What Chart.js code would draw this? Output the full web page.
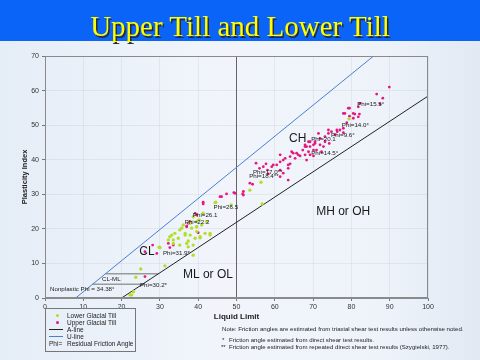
<!DOCTYPE html>
<html>
<head>
<meta charset="utf-8">
<script src="https://cdn.jsdelivr.net/npm/chart.js@4.4.1/dist/chart.umd.min.js"></script>
<style>
  html, body { margin: 0; padding: 0; }
  body {
    width: 480px; height: 360px; position: relative; overflow: hidden;
    background: linear-gradient(90deg, #e5edf7 0%, #f1f5fb 45%, #eef3fa 80%, #e2e9f3 100%);
    font-family: 'Liberation Sans', Arial, sans-serif; color: #222;
  }
  #bar { position: absolute; left: 0; top: 0; width: 480px; height: 41px; background: #0a64f8; }
  #title {
    position: absolute; left: 0; top: 9px; width: 480px; text-align: center;
    font-family: 'Liberation Serif', 'Times New Roman', serif; font-size: 29px; line-height: 34px;
    color: #ffff00; text-shadow: 1.5px 1.5px 0 #2a2a2a;
  }
  #wrap { position: absolute; left: 0; top: 0; width: 480px; height: 360px; }
  #legend {
    position: absolute; left: 45px; top: 308px; width: 89px; height: 42px;
    border: 1px solid #777; font-size: 6.5px; line-height: 7px;
  }
  #legend .row { position: absolute; left: 0; width: 89px; height: 7px; white-space: nowrap; }
  #legend .txt { position: absolute; left: 21px; top: 0; }
  #legend .dot { position: absolute; left: 10px; top: 2px; width: 3px; height: 3px; border-radius: 50%; }
  #legend .ln { position: absolute; left: 3px; top: 3px; width: 14px; height: 1px; }
  .note { position: absolute; font-size: 6.1px; line-height: 7px; white-space: nowrap; color: #222; }
</style>
</head>
<body>
<div id="wrap"><canvas id="plasticity"></canvas></div>
<div id="bar"></div>
<div id="title">Upper Till and Lower Till</div>

<div id="legend">
  <div class="row" style="top:3px"><span class="dot" style="background:#b0dc28"></span><span class="txt">Lower Glacial Till</span></div>
  <div class="row" style="top:10px"><span class="dot" style="background:#e6177f"></span><span class="txt">Upper Glacial Till</span></div>
  <div class="row" style="top:17px"><span class="ln" style="background:#222"></span><span class="txt">A-line</span></div>
  <div class="row" style="top:24px"><span class="ln" style="background:#4a7fd0"></span><span class="txt">U-line</span></div>
  <div class="row" style="top:31px"><span style="position:absolute;left:3px">Phi=</span><span class="txt">Residual Friction Angle</span></div>
</div>

<div class="note" style="left:222px; top:325px">Note: Friction angles are estimated from triaxial shear test results unless otherwise noted.</div>
<div class="note" style="left:222px; top:336px">*</div>
<div class="note" style="left:229px; top:336px">Friction angle estimated from direct shear test results.</div>
<div class="note" style="left:221px; top:343px">**</div>
<div class="note" style="left:229px; top:343px">Friction angle estimated from repeated direct shear test results (Szygielski, 1977).</div>

<script>
// Dati: [limite liquido, indice di plasticita]
const lowerTill = [
  [0, 0], [22.2, 0.9], [22.6, 0.9], [23.1, 1.8], [23.7, 6.0], [25.0, 8.4], [31.3, 9.3],
  [38.7, 12.4], [30.0, 14.6], [29.8, 14.7], [37.4, 14.8], [33.5, 15.8], [35.2, 15.3],
  [38.7, 15.3], [37.0, 15.8], [32.2, 16.8], [33.5, 16.8], [37.4, 16.5], [32.6, 17.7],
  [34.8, 17.3], [39.2, 17.3], [40.5, 17.4], [40.5, 17.7], [36.6, 18.2], [37.9, 18.2],
  [33.1, 18.2], [33.9, 18.7], [36.6, 18.7], [41.8, 18.7], [43.1, 18.2], [43.1, 18.7],
  [39.6, 19.2], [35.2, 19.7], [35.7, 20.2], [38.3, 20.2], [39.6, 20.6], [40.9, 21.1],
  [36.1, 21.1], [37.9, 21.6], [39.6, 22.1], [42.2, 22.1], [40.2, 22.6], [38.7, 23.5],
  [41.3, 24.5], [44.4, 27.6], [44.6, 27.7], [48.6, 26.9], [53.5, 31.2], [56.4, 33.5],
  [56.7, 27.2], [79.4, 51.8]
];
const upperTill = [
  [26.1, 6.2], [26.1, 13.4], [29.2, 12.9], [28.1, 15.3], [32.2, 15.8], [32.6, 14.6],
  [33.5, 15.3], [37.0, 20.6], [37.0, 20.8], [39.6, 20.6], [40.0, 18.9], [37.4, 21.6],
  [37.9, 22.1], [39.6, 24.0], [39.2, 24.5], [41.3, 27.7], [41.3, 27.2], [46.1, 29.3],
  [45.7, 29.3], [47.4, 30.1], [49.6, 30.3], [49.3, 30.5], [51.6, 30.1], [51.8, 30.8],
  [51.8, 29.8], [53.5, 33.2], [54.2, 32.9], [55.1, 39.0], [56.0, 37.5], [57.0, 38.0],
  [57.7, 38.8], [58.1, 37.0], [59.2, 38.0], [59.6, 38.5], [60.5, 38.5], [61.4, 37.0],
  [61.4, 35.1], [62.2, 36.1], [63.5, 34.1], [63.5, 37.5], [58.3, 35.9], [61.4, 39.4],
  [61.4, 41.4], [62.2, 39.9], [62.7, 40.4], [63.5, 38.5], [64.0, 38.8], [64.0, 40.9],
  [64.8, 41.9], [65.3, 40.4], [65.7, 41.9], [64.4, 42.3], [66.1, 41.4], [66.6, 41.1],
  [67.3, 42.8], [67.9, 41.4], [67.9, 43.8], [67.9, 44.3], [68.3, 39.9], [68.3, 43.8],
  [68.8, 42.3], [68.8, 45.2], [69.2, 41.4], [69.2, 43.8], [69.2, 45.2], [70.1, 41.1],
  [70.1, 42.8], [70.1, 44.3], [70.5, 44.7], [70.5, 45.2], [70.9, 42.8], [71.4, 47.6],
  [71.8, 44.3], [71.8, 46.2], [72.2, 42.3], [72.7, 43.8], [73.1, 45.2], [73.1, 46.7],
  [74.0, 47.6], [74.0, 48.6], [74.2, 44.7], [74.8, 48.1], [75.7, 47.2], [76.2, 48.6],
  [76.3, 48.1], [77.0, 48.6], [77.9, 47.8], [77.9, 49.1], [78.8, 50.7], [77.9, 53.4],
  [78.3, 53.4], [79.5, 52.6], [79.5, 54.9], [79.2, 54.9], [80.5, 52.0], [80.5, 53.4],
  [80.9, 53.2], [81.8, 52.4], [82.1, 53.2], [81.8, 55.3], [82.2, 56.3], [87.5, 56.1],
  [88.2, 57.8], [86.6, 59.0], [89.9, 61.0]
];

// Linee di classificazione
const aLine = [[20, 0], [100, 58.4]];
const uLine = [[8, 0], [85.8, 70]];
const llDivider = [[50, 0], [50, 70]];
const clmlTop = [[15.8, 7], [29.6, 7]];
const clmlBottom = [[12.4, 4], [25.5, 4]];

// Etichette delle zone e degli angoli di attrito: [testo, LL, PI]
const zoneLabels = [
  ['CL', 24.6, 13.3], ['CH', 63.7, 46], ['ML or OL', 36, 6.7], ['MH or OH', 70.8, 24.9]
];
const phiLabels = [
  ['Phi=15.5°', 81.5, 56.1], ['Phi=14.0°', 77.5, 50], ['Phi=9.6°', 74.7, 47],
  ['Phi=20.1', 69.5, 46], ['Phi=14.5°', 69.5, 42], ['Phi=17.0**', 54.3, 36.4],
  ['Phi=18.4**', 53.3, 35.3], ['Phi=26.5', 44, 26.3], ['Phi=26.1', 38.6, 24],
  ['Phi=22.2', 36.5, 22], ['Phi=31.9*', 30.8, 13], ['Phi=30.2*', 24.8, 3.8],
  ['CL-ML', 14.9, 5.5], ['Nonplastic Phi = 34.38°', 1.3, 2.6]
];

const toXY = arr => arr.map(p => ({ x: p[0], y: p[1] }));

const lineSet = (data, color, width) => ({
  data: toXY(data), showLine: true, borderColor: color, borderWidth: width,
  pointRadius: 0, pointHoverRadius: 0, fill: false
});

// Bordo dell'area e testi dentro il grafico
const plotText = {
  id: 'plotText',
  afterDatasetsDraw(chart) {
    const { ctx, chartArea: a, scales: { x, y } } = chart;
    ctx.save();
    ctx.strokeStyle = '#8a8a8a';
    ctx.lineWidth = 1;
    ctx.strokeRect(a.left + 0.5, a.top + 0.5, a.width - 1, a.height - 1);
    ctx.fillStyle = '#1a1a1a';
    ctx.textAlign = 'left';
    ctx.textBaseline = 'middle';
    ctx.font = '12px "Liberation Sans", Arial, sans-serif';
    zoneLabels.forEach(([t, ll, pi]) => ctx.fillText(t, x.getPixelForValue(ll), y.getPixelForValue(pi)));
    ctx.font = '6.2px "Liberation Sans", Arial, sans-serif';
    phiLabels.forEach(([t, ll, pi]) => ctx.fillText(t, x.getPixelForValue(ll), y.getPixelForValue(pi)));
    ctx.restore();
  }
};

new Chart(document.getElementById('plasticity'), {
  type: 'scatter',
  data: {
    datasets: [
      { label: 'Lower Glacial Till', data: toXY(lowerTill), backgroundColor: '#b4de2c',
        borderWidth: 0, pointRadius: 1.7, pointStyle: 'circle' },
      { label: 'Upper Glacial Till', data: toXY(upperTill), backgroundColor: '#e6177f',
        borderWidth: 0, pointRadius: 1.4, pointStyle: 'circle' },
      Object.assign(lineSet(aLine, '#222', 1), { label: 'A-line' }),
      Object.assign(lineSet(uLine, '#4a7fd0', 1), { label: 'U-line' }),
      lineSet(llDivider, '#666', 1),
      lineSet(clmlTop, '#9a9a9a', 1.5),
      lineSet(clmlBottom, '#9a9a9a', 1.5)
    ]
  },
  options: {
    responsive: true,
    maintainAspectRatio: false,
    animation: false,
    layout: { padding: { left: 16, right: 52, top: 56, bottom: 34 } },
    plugins: { legend: { display: false }, tooltip: { enabled: false } },
    scales: {
      x: {
        type: 'linear', min: 0, max: 100,
        ticks: { stepSize: 10, color: '#333', padding: 2, font: { size: 7 } },
        grid: { color: 'rgba(0,0,0,0.05)', tickLength: 3, tickColor: '#777' },
        border: { color: '#8a8a8a' },
        title: { display: true, text: 'Liquid Limit', color: '#222',
          font: { size: 8, weight: 'bold' }, padding: { top: 4, bottom: 4 } },
        afterFit: s => { s.height = 28; }
      },
      y: {
        type: 'linear', min: 0, max: 70,
        ticks: { stepSize: 10, color: '#333', padding: 3, font: { size: 7 } },
        grid: { color: 'rgba(0,0,0,0.05)', tickLength: 3, tickColor: '#777' },
        border: { color: '#8a8a8a' },
        title: { display: true, text: 'Plasticity Index', color: '#222',
          font: { size: 7.5, weight: 'bold' }, padding: { top: 4, bottom: 4 } },
        afterFit: s => { s.width = 29; }
      }
    }
  },
  plugins: [plotText]
});
</script>
</body>
</html>
